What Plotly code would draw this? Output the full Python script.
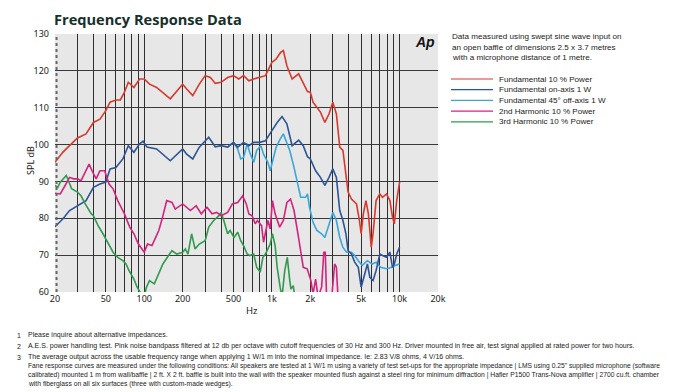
import plotly.graph_objects as go

# ---------------- data ----------------
red_freq = [20, 23, 26, 30, 35, 40, 45, 50, 54, 60, 65, 70, 75, 83, 92, 100, 110, 125, 160, 200,
            215, 240, 270, 300, 330, 360, 400, 450, 500, 550, 600, 660, 720, 800, 890, 1000, 1080,
            1170, 1230, 1310, 1440, 1620, 1760, 1900, 2000, 2100, 2400, 2600, 2800, 3000, 3200,
            3400, 3600, 3750, 3950, 4200, 4600, 4850, 5000, 5200, 5450, 5700, 6000, 6200, 6550,
            7000, 7350, 7900, 8400, 8800, 9100, 9500, 10000]
red_db = [95.2, 97.9, 99.7, 101.8, 102.9, 106.0, 106.9, 109.2, 111.5, 112.1, 112.1, 114.2, 116.9,
          115.5, 117.8, 117.8, 116.4, 115.5, 112.4, 116.4, 115.1, 113.3, 116.4, 118.7, 118.2,
          116.6, 116.9, 118.2, 118.7, 117.8, 118.7, 117.3, 117.8, 118.2, 118.7, 122.3, 123.2,
          125.0, 125.5, 121.4, 117.8, 119.2, 116.9, 114.4, 114.2, 111.5, 108.8, 106.0, 108.3,
          111.5, 108.3, 99.3, 98.4, 93.8, 87.1, 85.2, 83.9, 79.4, 75.8, 81.2, 84.8, 81.2, 72.1,
          75.8, 84.8, 86.6, 85.7, 86.6, 84.8, 80.3, 78.5, 84.8, 89.8]

onaxis_freq = [20, 23, 26, 30, 35, 40, 45, 50, 54, 60, 68, 75, 83, 92, 98, 105, 125, 160, 200,
               215, 240, 270, 320, 360, 400, 450, 500, 540, 600, 660, 720, 800, 890, 1000, 1100,
               1200, 1310, 1440, 1620, 1760, 1900, 2000, 2200, 2400, 2600, 2800, 3000, 3200,
               3400, 3600, 3800, 3950, 4200, 4450, 4750, 5000, 5300, 5600, 5850, 6200, 6550,
               7000, 7350, 7900, 8400, 8800, 9100, 9500, 10000]
onaxis_db = [77.7, 79.8, 82.1, 83.4, 84.8, 88.4, 89.3, 89.8, 93.4, 93.8, 96.1, 99.7, 97.9, 100.2,
             100.9, 99.3, 98.8, 95.6, 98.8, 97.4, 96.1, 99.3, 102.0, 99.4, 99.7, 99.3, 100.6,
             99.3, 100.6, 99.7, 100.6, 100.6, 101.0, 103.8, 106.0, 107.6, 105.6, 99.7, 101.2,
             99.7, 96.7, 96.1, 92.9, 91.1, 88.9, 91.1, 93.4, 91.1, 82.1, 79.4, 75.8, 71.2, 70.3,
             68.1, 66.7, 61.3, 64.9, 67.6, 64.0, 63.1, 65.8, 70.3, 69.9, 69.4, 70.8, 66.7, 67.6,
             70.3, 72.1]

offaxis_freq = [450, 500, 540, 570, 600, 640, 670, 720, 760, 820, 860, 930, 970, 1010, 1080, 1160,
                1230, 1290, 1380, 1490, 1600, 1680, 1840, 1900, 1970, 2100, 2250, 2450, 2600,
                2750, 2900, 3000, 3200, 3400, 3600, 3850, 4200, 4450, 4750, 5100, 5600, 6100,
                6550, 7100, 7900, 8700, 9200, 10000]
offaxis_db = [99.3, 100.6, 98.8, 96.1, 96.5, 100.2, 97.9, 95.2, 98.4, 99.7, 97.4, 95.2, 92.9, 95.2,
              99.3, 101.5, 102.9, 101.0, 98.4, 93.8, 88.4, 85.7, 85.7, 86.6, 83.0, 78.9, 76.7,
              75.8, 74.8, 77.6, 79.8, 81.6, 79.4, 74.8, 72.1, 70.8, 70.8, 69.9, 68.5, 67.2, 68.5,
              67.6, 68.1, 66.7, 66.3, 66.7, 67.2, 67.6]

h2_freq = [20, 22, 24, 26, 28, 30, 32, 34, 37, 39, 42, 45, 49, 53, 57, 62, 70, 77, 83, 90, 95, 100,
           106, 115, 123, 130, 138, 150, 165, 175, 200, 215, 230, 255, 280, 310, 340, 370, 400,
           450, 490, 540, 590, 630, 660, 700, 740, 770, 830, 860, 930, 970, 1010, 1060, 1150,
           1230, 1310, 1400, 1490, 1600, 1680, 1760, 1890, 1970, 2020, 2100, 2150, 2200, 2300,
           2450, 2550, 2620, 2680, 2900, 3100, 3200, 3300]
h2_db = [86.8, 86.6, 88.9, 91.1, 90.7, 90.7, 90.2, 92.0, 94.7, 92.9, 90.7, 92.9, 92.9, 89.3, 88.0,
         84.8, 81.2, 77.6, 75.8, 73.0, 71.7, 70.8, 73.0, 72.6, 74.8, 76.7, 79.8, 84.8, 84.3, 82.5,
         83.9, 83.0, 82.1, 83.4, 81.2, 83.0, 81.2, 81.6, 80.7, 81.6, 83.9, 84.3, 86.1, 83.9, 81.2,
         80.7, 78.5, 79.4, 78.0, 73.5, 79.4, 77.1, 84.8, 81.2, 77.6, 79.4, 84.3, 85.2, 82.1, 75.8,
         71.2, 66.7, 66.3, 64.0, 63.1, 59.5, 61.3, 63.5, 58.6, 61.3, 70.8, 70.8, 58.6, 56.0,
         67.6, 66.7, 58.0]

h3_freq = [20, 21, 22, 24.5, 25.5, 27, 30, 32, 34.5, 36.5, 38.5, 40, 43.5, 47.5, 52, 57, 62, 68,
           72, 76, 83, 88, 93, 100, 104, 110, 120, 130, 140, 155, 165, 180, 200, 210, 220, 235,
           250, 270, 300, 320, 350, 385, 400, 420, 450, 470, 505, 540, 570, 600, 640, 670, 720,
           760, 810, 850, 890, 970, 1010, 1060, 1100, 1160, 1200, 1260, 1320, 1380, 1410, 1470,
           1500]
h3_db = [88.9, 88.4, 89.8, 91.6, 90.2, 88.0, 87.1, 86.1, 83.9, 82.5, 81.2, 80.7, 78.0, 75.8, 73.5,
         70.8, 69.4, 68.5, 67.6, 65.8, 63.5, 61.3, 59.9, 58.6, 61.3, 63.1, 62.2, 64.9, 67.6, 69.9,
         71.2, 70.3, 70.8, 71.7, 70.3, 75.8, 71.7, 73.0, 73.9, 77.6, 79.4, 80.7, 81.6, 79.4, 75.8,
         76.7, 74.8, 76.2, 73.9, 72.6, 70.3, 69.9, 70.3, 66.7, 65.4, 69.4, 70.3, 73.0, 75.8, 72.6,
         66.7, 61.3, 58.6, 65.8, 69.4, 63.1, 60.8, 61.7, 59.5]

series_names = ["Fundamental 10 % Power", "Fundamental on-axis 1 W", "Fundamental 45° off-axis 1 W",
                "2nd Harmonic 10 % Power", "3rd Harmonic 10 % Power"]
series_colors = ["#d8392c", "#2b5596", "#3ba6da", "#d4237f", "#2f9b4c"]

grid_freqs = [30, 40, 50, 60, 70, 80, 90, 100, 200, 300, 400, 500, 600, 700, 800, 900, 1000,
              2000, 3000, 4000, 5000, 6000, 7000, 8000, 9000, 10000]
tick_vals = [20, 50, 100, 200, 500, 1000, 2000, 5000, 10000, 20000]
tick_text = ["20", "50", "100", "200", "500", "1k", "2k", "5k", "10k", "20k"]
y_ticks = [60, 70, 80, 90, 100, 110, 120, 130]

info_lines = ["Data measured using swept sine wave input on",
              "an open baffle of dimensions 2.5 x 3.7 metres",
              "with a microphone distance of 1 metre."]

footnotes = [
    ("1", "Please inquire about alternative impedances."),
    ("2", "A.E.S. power handling test. Pink noise bandpass filtered at 12 db per octave with cutoff frequencies of 30 Hz and 300 Hz. Driver mounted in free air, test signal applied at rated power for two hours."),
    ("3", "The average output across the usable frequency range when applying 1 W/1 m into the nominal impedance. Ie: 2.83 V/8 ohms, 4 V/16 ohms."),
    ("", "Fane response curves are measured under the following conditions: All speakers are tested at 1 W/1 m using a variety of test set-ups for the appropriate impedance | LMS using 0.25\" supplied microphone (software"),
    ("", "calibrated) mounted 1 m from wall/baffle | 2 ft. X 2 ft. baffle is built into the wall with the speaker mounted flush against a steel ring for minimum diffraction | Hafler P1500 Trans-Nova amplifier | 2700 cu.ft. chamber"),
    ("", "with fiberglass on all six surfaces (three with custom-made wedges)."),
]
footnote_sizes = [7, 7, 7, 6.7, 6.75, 6.75]

# ---------------- layout geometry ----------------
# the page body adds an 8px margin, so the figure is drawn 8px smaller
OFF = 8
W, H = 676 - OFF, 392 - OFF
L, R, T, B = 55 - OFF, 238, 34 - OFF, 100
PW, PH = W - L - R, H - T - B


def px(x):
    # x given in window pixels
    return (x - 55) / PW


def py(y):
    # y given in window pixels
    return (292 - y) / PH


fig = go.Figure()

all_series = [
    (offaxis_freq, offaxis_db, 2),
    (onaxis_freq, onaxis_db, 1),
    (h3_freq, h3_db, 4),
    (h2_freq, h2_db, 3),
    (red_freq, red_db, 0),
]
for fx, fy, idx in all_series:
    fig.add_trace(go.Scatter(x=fx, y=fy, mode="lines", name=series_names[idx],
                             line=dict(color=series_colors[idx], width=1.6),
                             showlegend=False, hoverinfo="skip"))

# invisible trace on the label axis so it is drawn
fig.add_trace(go.Scatter(x=[20], y=[60], xaxis="x2", mode="markers",
                         marker=dict(opacity=0), showlegend=False, hoverinfo="skip"))

tick_font = dict(family="Noto Sans, Open Sans, sans-serif", size=9, color="#222222")

fig.update_layout(
    width=W, height=H,
    margin=dict(l=L, r=R, t=T, b=B, pad=0),
    paper_bgcolor="white",
    plot_bgcolor="#e7e7e7",
    xaxis=dict(type="log", range=[1.30103, 4.30103], tickvals=grid_freqs,
               showticklabels=False, ticks="", showgrid=True, gridcolor="#2f2f2f",
               gridwidth=1.4, zeroline=False, showline=False, fixedrange=True),
    xaxis2=dict(type="log", overlaying="x", matches="x", side="bottom",
                range=[1.30103, 4.30103], tickvals=tick_vals, ticktext=tick_text,
                showgrid=False, ticks="", showline=False, zeroline=False,
                tickfont=tick_font, ticklabelstandoff=0),
    yaxis=dict(range=[60, 130], tickvals=y_ticks, showgrid=True,
               gridcolor="#3a3a3a", gridwidth=1.4, ticks="", zeroline=False,
               showline=False, tickfont=tick_font, ticklabelstandoff=5),
    showlegend=False,
)

# dotted left border at 20 Hz
fig.add_shape(type="line", xref="paper", yref="paper", x0=0.004, x1=0.004, y0=0, y1=1,
              line=dict(color="#666666", width=2, dash="dot"))

annotations = []
# title
annotations.append(dict(text="<b>Frequency Response Data</b>", x=px(52), y=py(19), xref="paper",
                        yref="paper", xanchor="left", yanchor="middle", showarrow=False,
                        font=dict(family="Open Sans, sans-serif", size=14.6, color="#16302a")))
# Ap logo
annotations.append(dict(text="<b><i>Ap</i></b>", x=px(437), y=py(42), xref="paper", yref="paper",
                        xanchor="right", yanchor="middle", showarrow=False,
                        font=dict(family="Liberation Sans, Arial, sans-serif", size=14,
                                  color="#111111")))
# axis titles
annotations.append(dict(text="SPL dB", x=px(30), y=py(160), xref="paper", yref="paper",
                        textangle=-90, showarrow=False, xanchor="center", yanchor="middle",
                        font=dict(family="Noto Sans, sans-serif", size=9, color="#222222")))
annotations.append(dict(text="Hz", x=px(252), y=py(310), xref="paper", yref="paper",
                        showarrow=False, xanchor="center", yanchor="middle",
                        font=dict(family="Noto Sans, sans-serif", size=9.5, color="#222222")))
# info text
for i, line in enumerate(info_lines):
    annotations.append(dict(text=line, x=px(450), y=py(36.5 + 10.7 * i), xref="paper",
                            yref="paper", xanchor="left", yanchor="middle", showarrow=False,
                            font=dict(family="Liberation Sans, Arial, sans-serif", size=8.1,
                                      color="#1a1a1a")))
# manual legend
for i, (name, col) in enumerate(zip(series_names, series_colors)):
    yy = 79 + 10.7 * i
    fig.add_shape(type="line", xref="paper", yref="paper", x0=px(451), x1=px(493),
                  y0=py(yy), y1=py(yy), line=dict(color=col, width=1.2))
    annotations.append(dict(text=name, x=px(497), y=py(yy), xref="paper", yref="paper",
                            xanchor="left", yanchor="middle", showarrow=False,
                            font=dict(family="Liberation Sans, Arial, sans-serif", size=8.1,
                                      color="#1a1a1a")))
# footnotes
foot_y = [335, 346, 357, 366, 375, 384]
for (num, txt), yy, fs in zip(footnotes, foot_y, footnote_sizes):
    if num:
        annotations.append(dict(text=num, x=px(15), y=py(yy), xref="paper", yref="paper",
                                xanchor="left", yanchor="middle", showarrow=False,
                                font=dict(family="Liberation Sans, Arial, sans-serif", size=7,
                                          color="#222222")))
    annotations.append(dict(text=txt, x=px(26), y=py(yy), xref="paper", yref="paper",
                            xanchor="left", yanchor="middle", showarrow=False,
                            font=dict(family="Liberation Sans, Arial, sans-serif", size=fs,
                                      color="#222222")))

fig.update_layout(annotations=annotations)
fig.write_html("out.html")
